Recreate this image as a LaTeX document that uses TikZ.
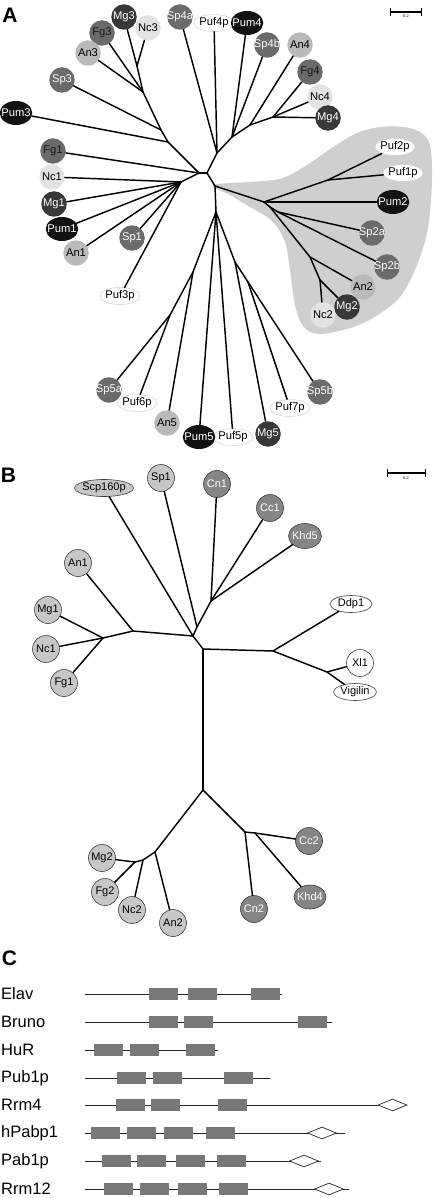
\documentclass[tikz,border=0pt]{standalone}
\usepackage{fontspec}
\setmainfont{Liberation Sans}
\usetikzlibrary{shapes.geometric}

\begin{document}
\begin{tikzpicture}[x=1pt, y=-1pt,
    every node/.style={inner sep=0pt, font=\fontsize{11.2}{13}\selectfont},
    panel/.style={font=\fontsize{21}{24}\selectfont\bfseries},
    br/.style={line width=1.45pt, line cap=round},
    leaf/.style={circle, inner sep=-4pt, minimum size=25.5pt},
    mg/.style={leaf, fill=black!78, text=white},
    sp/.style={leaf, fill=black!58, text=white},
    fg/.style={leaf, fill=black!58, text=black!90},
    an/.style={leaf, fill=black!27},
    nc/.style={leaf, fill=black!11},
    pum/.style={ellipse, inner xsep=-3.5pt, minimum width=32.5pt, minimum height=24pt, fill=black!93, text=white},
    puf/.style={ellipse, inner xsep=-2pt, minimum width=40pt, minimum height=17pt, fill=white, draw=black!18, line width=0.5pt},
    bleaf/.style={circle, minimum size=27pt, draw=black!75, line width=0.6pt, font=\fontsize{11}{12}\selectfont},
    blt/.style={bleaf, fill=black!22},
    bdk/.style={bleaf, fill=black!48, text=white},
    bov/.style={bleaf, ellipse, inner xsep=-1.5pt, minimum width=42pt, minimum height=17pt},
    scalebar/.style={line width=1.1pt, |-|},
    tiny/.style={font=\fontsize{4}{5}\selectfont},
    lab/.style={anchor=west, font=\fontsize{16.5}{18}\selectfont},
    bb/.style={line width=0.8pt, black!85},
    rrm/.style={anchor=west, fill=black!53, minimum width=28.5pt, minimum height=12pt},
    pabc/.style={diamond, draw=black!85, fill=white, line width=0.7pt, minimum width=29pt, minimum height=12pt}]
\useasboundingbox (0,0) rectangle (432,1198);

% ---- A ----
\node[panel] (labA) at (10,15.5) {A};
\fill[black!19] plot[smooth cycle, tension=0.55] coordinates {(213,185) (250,182) (283,178) (310,163)
    (333,147) (357,133) (380,127) (403,127) (420,132) (430,145) (432,180) (428,228) (417,265)
    (400,297) (373,318) (347,329) (318,334) (303,326) (295,305) (290,270) (285,242) (272,221)
    (250,207) (230,195)};

\coordinate (sa1) at (390,12);
\coordinate (sa2) at (422,12);
\draw[scalebar] (sa1) -- (sa2);
\node[tiny] (sca) at (406,16.5) {0.2};

\node[mg] (Mg3) at (124,17) {Mg3};
\node[nc] (Nc3) at (148,28) {Nc3};
\node[fg] (Fg3) at (102,33) {Fg3};
\node[an] (An3) at (88,53) {An3};
\node[sp] (Sp3) at (62,80) {Sp3};
\node[pum] (Pum3) at (16,113) {Pum3};
\node[sp] (Sp4a) at (180,17) {Sp4a};
\node[puf] (Puf4p) at (214,23) {Puf4p};
\node[pum] (Pum4) at (247,23) {Pum4};
\node[sp] (Sp4b) at (267,45) {Sp4b};
\node[an] (An4) at (300,45) {An4};
\node[fg] (Fg4) at (310,72) {Fg4};
\node[nc] (Nc4) at (320,97) {Nc4};
\node[mg] (Mg4) at (328,118) {Mg4};
\node[puf] (Puf2p) at (395,147) {Puf2p};
\node[puf] (Puf1p) at (403,173) {Puf1p};
\node[pum] (Pum2) at (393,202) {Pum2};
\node[sp] (Sp2a) at (372,233) {Sp2a};
\node[sp] (Sp2b) at (387,267) {Sp2b};
\node[an] (An2) at (363,287) {An2};
\node[nc] (Nc2) at (323,315) {Nc2};
\node[mg] (Mg2) at (347,307) {Mg2};
\node[fg] (Fg1) at (53,151) {Fg1};
\node[nc] (Nc1) at (52,177) {Nc1};
\node[mg] (Mg1) at (54,204) {Mg1};
\node[pum] (Pum1) at (62,229) {Pum1};
\node[an] (An1) at (76,253) {An1};
\node[sp] (Sp1) at (132,238) {Sp1};
\node[puf] (Puf3p) at (120,296) {Puf3p};
\node[sp] (Sp5a) at (109,390) {Sp5a};
\node[puf] (Puf6p) at (137,403) {Puf6p};
\node[an] (An5) at (167,423) {An5};
\node[puf] (Puf5p) at (233,437) {Puf5p};
\node[pum] (Pum5) at (199,437) {Pum5};
\node[mg] (Mg5) at (268,434) {Mg5};
\node[puf] (Puf7p) at (290,408) {Puf7p};
\node[sp] (Sp5b) at (320,392) {Sp5b};

\coordinate (a1) at (137,66);
\coordinate (a2) at (143,92);
\coordinate (a3) at (161,130);
\coordinate (a4) at (168,142);
\coordinate (L) at (199,173);
\coordinate (b1) at (181,182);
\coordinate (C) at (207,173);
\coordinate (c1) at (217,153);
\coordinate (c2) at (232,137);
\coordinate (c3) at (250,125);
\coordinate (c4) at (273,117);
\coordinate (D) at (215,186);
\coordinate (e1) at (264,202);
\coordinate (e2) at (328,180);
\coordinate (e3) at (270,207);
\coordinate (e4) at (278,212);
\coordinate (e5) at (310,257);
\coordinate (e6) at (320,280);
\coordinate (F) at (216,212);
\coordinate (g0) at (193,272);
\coordinate (h1) at (170,315);
\coordinate (g1) at (235,262);
\coordinate (g2) at (248,282);

\foreach \u/\v in {a1/Mg3, a1/Nc3, a2/a1, a2/Fg3, a2/An3, a3/a2, a3/Sp3, a4/a3, a4/Pum3,
    L/a4, L/Fg1, L/b1, b1/Nc1, b1/Mg1, b1/Pum1, b1/An1, b1/Sp1, b1/Puf3p,
    C/L, C/c1, c1/Sp4a, c1/Puf4p, c1/c2, c2/Pum4, c2/Sp4b, c2/c3, c3/An4, c3/c4,
    c4/Fg4, c4/Nc4, c4/Mg4, C/D, D/e1, e1/Pum2, e1/e2, e2/Puf2p, e2/Puf1p, e1/e3,
    e3/e4, e4/Sp2a, e4/Sp2b, e3/e5, e5/An2, e5/e6, e6/Mg2, e6/Nc2,
    D/F, F/g0, g0/An5, g0/h1, h1/Sp5a, h1/Puf6p, F/Pum5, F/Puf5p, F/g1,
    g1/Mg5, g1/g2, g2/Puf7p, g2/Sp5b}
    \draw[br] (\u) -- (\v);

% ---- B ----
\node[panel] (labB) at (8.5,475) {B};
\coordinate (sb1) at (387,473);
\coordinate (sb2) at (426,473);
\draw[scalebar] (sb1) -- (sb2);
\node[tiny] (scb) at (406,478.5) {0.2};

\node[blt, ellipse, inner xsep=-1.5pt, minimum width=59pt, minimum height=17pt] (bScp) at (104,488) {Scp160p};
\node[blt] (bSp1) at (161,478) {Sp1};
\node[bdk] (bCn1) at (217,484) {Cn1};
\node[bdk] (bCc1) at (270,508) {Cc1};
\node[bdk, ellipse, inner xsep=-1.5pt, minimum width=33pt, minimum height=25pt] (bKhd5) at (305,536) {Khd5};
\node[blt] (bAn1) at (78,563) {An1};
\node[blt] (bMg1) at (48,610) {Mg1};
\node[blt] (bNc1) at (46,649) {Nc1};
\node[blt] (bFg1) at (64,683) {Fg1};
\node[bov, fill=white] (bDdp1) at (351,604) {Ddp1};
\node[bleaf, fill=white] (bXl1) at (360,663) {Xl1};
\node[bov, fill=white, minimum width=43pt] (bVig) at (355,692) {Vigilin};
\node[blt] (bMg2) at (102,858) {Mg2};
\node[blt] (bFg2) at (105,892) {Fg2};
\node[blt] (bNc2) at (132,910) {Nc2};
\node[blt] (bAn2) at (173,923) {An2};
\node[bdk] (bCn2) at (254,909) {Cn2};
\node[bdk, ellipse, inner xsep=-1.5pt, minimum width=32pt, minimum height=24pt] (bKhd4) at (310,897) {Khd4};
\node[bdk] (bCc2) at (309,841) {Cc2};

\coordinate (p2) at (103,638);
\coordinate (p1) at (133,631);
\coordinate (S1) at (211,601);
\coordinate (Q1) at (197,627);
\coordinate (Q) at (193,636);
\coordinate (R) at (203,649);
\coordinate (T) at (273,651);
\coordinate (U) at (327,672);
\coordinate (V) at (203,790);
\coordinate (W) at (155,852);
\coordinate (W2) at (143,860);
\coordinate (W3) at (135,862);
\coordinate (X) at (245,832);
\coordinate (X2) at (255,833);

\foreach \u/\v in {p2/bMg1, p2/bNc1, p2/bFg1, p1/p2, p1/bAn1, S1/bCn1, S1/bCc1, S1/bKhd5,
    Q1/S1, Q1/bSp1, Q/Q1, Q/bScp, Q/p1, Q/R, R/T, T/bDdp1, T/U, U/bXl1, U/bVig,
    R/V, V/W, W/bAn2, W/W2, W2/bNc2, W2/W3, W3/bMg2, W3/bFg2, V/X, X/bCn2, X/X2,
    X2/bCc2, X2/bKhd4}
    \draw[br] (\u) -- (\v);

% ---- C ----
\node[panel] (labC) at (9.5,958) {C};
\foreach \name/\yy/\xend/\boxes in {Elav/994/282/{149,188,251}, Bruno/1022/332/{149,184,298},
    HuR/1050/218/{94,130,186}, Pub1p/1078/270/{117,153,224}, Rrm4/1105/392/{116,151,218},
    hPabp1/1133/345/{91,127,164,206}, Pab1p/1161/321/{102,137,176,217},
    Rrm12/1189/349/{104,140,178,219}} {
  \node[lab] (\name) at (1,\yy) {\name};
  \coordinate (\name-s) at (85,\yy);
  \coordinate (\name-e) at (\xend,\yy);
  \draw[bb] (\name-s) -- (\name-e);
  \foreach \b [count=\i] in \boxes
    \node[rrm] (\name-\i) at (\b,\yy) {};
}
\foreach \name/\yy/\dx in {Rrm4/1105/392.5, hPabp1/1133/322, Pab1p/1161/304, Rrm12/1189/329}
  \node[pabc] (\name-pabc) at (\dx,\yy) {};
\end{tikzpicture}
\end{document}
